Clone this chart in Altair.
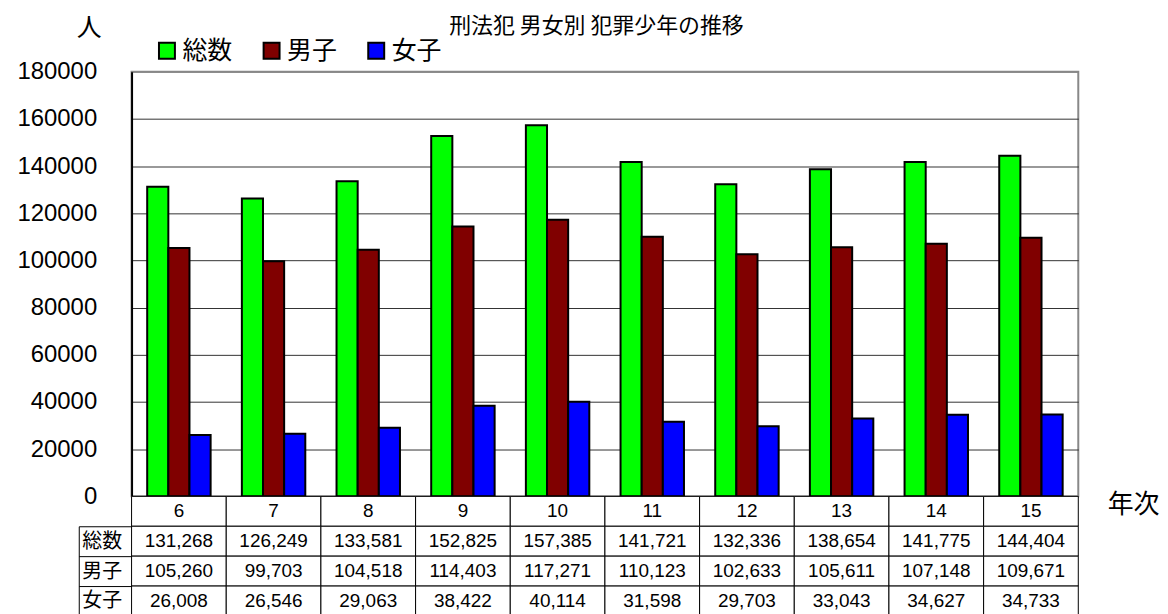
import altair as alt
import pandas as pd

# ---- data ----
years = ["6", "7", "8", "9", "10", "11", "12", "13", "14", "15"]
series = ["総数", "男子", "女子"]
total = [131268, 126249, 133581, 152825, 157385, 141721, 132336, 138654, 141775, 144404]
male = [105260, 99703, 104518, 114403, 117271, 110123, 102633, 105611, 107148, 109671]
female = [26008, 26546, 29063, 38422, 40114, 31598, 29703, 33043, 34627, 34733]
colors = ["#00FF00", "#800000", "#0000FF"]
y_ticks = [0, 20000, 40000, 60000, 80000, 100000, 120000, 140000, 160000, 180000]

title_text = "刑法犯 男女別 犯罪少年の推移"
y_title = "人"
x_title = "年次"

rows = []
for i, yr in enumerate(years):
    for s, vals in zip(series, [total, male, female]):
        rows.append({"year": yr, "series": s, "value": vals[i]})
df = pd.DataFrame(rows)
df_years = pd.DataFrame({"year": years})

JP = "Noto Sans CJK JP"
NUM = "Liberation Sans"

# ---- bar chart ----
bars = alt.Chart(
    df, width=950, height=426,
    view=alt.ViewBackground(stroke="#888888", strokeWidth=2)
).mark_bar(stroke="black", strokeWidth=2).encode(
    x=alt.X("year:N", sort=years,
            scale=alt.Scale(paddingInner=0.33, paddingOuter=0.165),
            axis=alt.Axis(orient="top", labels=False, ticks=False, domain=False, grid=False,
                          title=title_text, titleX=466, titleY=-46, titleAlign="center",
                          titleBaseline="middle", titleFont=JP, titleFontSize=22,
                          titleFontWeight="normal", titleColor="black")),
    xOffset=alt.XOffset("series:N", sort=series,
                        scale=alt.Scale(paddingInner=0, paddingOuter=0)),
    y=alt.Y("value:Q", scale=alt.Scale(domain=[0, 180000]),
            axis=alt.Axis(values=y_ticks, format="d", ticks=False, labelPadding=35,
                          labelFont=NUM, labelFontSize=24, labelColor="black",
                          grid=True,
                          gridColor={"condition": {"test": "datum.value == 180000", "value": "#888888"},
                                     "value": "#333333"},
                          gridWidth=1, domainColor="black", domainWidth=2,
                          title=y_title, titleAngle=0, titleX=-43, titleY=-44,
                          titleAlign="center", titleBaseline="middle", titleFont=JP,
                          titleFontSize=25, titleFontWeight="normal", titleColor="black")),
    color=alt.Color("series:N", sort=series,
                    scale=alt.Scale(domain=series, range=colors),
                    legend=alt.Legend(orient="none", legendX=23, legendY=-34,
                                      direction="horizontal", title=None,
                                      symbolType="square", symbolSize=256,
                                      symbolStrokeColor="black", symbolStrokeWidth=2,
                                      symbolOpacity=1, labelFont=JP, labelFontSize=25,
                                      labelOffset=3, columnPadding=26, padding=0,
                                      labelColor="black")),
)

# ---- header row (years) ----
hdr_base = alt.Chart(df_years, width=950, height=30).encode(
    x=alt.X("year:N", sort=years, scale=alt.Scale(paddingInner=0, paddingOuter=0),
            axis=alt.Axis(orient="bottom", labels=False, ticks=False, domain=False, grid=False,
                          title=x_title, titleX=1005, titleY=-22, titleAlign="center",
                          titleBaseline="middle", titleFont=JP, titleFontSize=26,
                          titleFontWeight="normal", titleColor="black")),
)
header = alt.layer(
    hdr_base.mark_rect(fill="white", stroke="black", strokeWidth=1),
    hdr_base.mark_text(font=NUM, fontSize=19, color="black").encode(text="year:N"),
)

# ---- data table ----
tbl_base = alt.Chart(df, width=950, height=90).encode(
    x=alt.X("year:N", sort=years, scale=alt.Scale(paddingInner=0, paddingOuter=0), axis=None),
    y=alt.Y("series:N", sort=series, scale=alt.Scale(paddingInner=0, paddingOuter=0),
            axis=alt.Axis(orient="left", title=None, domain=False, ticks=True,
                          tickBand="extent", tickSize=53, tickColor="black", tickWidth=1,
                          labelAlign="left", labelPadding=-3, labelFont=JP,
                          labelFontSize=20, labelColor="black", grid=False)),
)
cells = alt.layer(
    tbl_base.mark_rect(fill="white", stroke="black", strokeWidth=1),
    tbl_base.mark_text(font=NUM, fontSize=19, color="black").encode(
        text=alt.Text("value:Q", format=",")),
)
border = alt.Chart(df).mark_point(opacity=0, size=1).encode(
    y=alt.Y("series:N", sort=series, scale=alt.Scale(paddingInner=0, paddingOuter=0),
            axis=alt.Axis(orient="left", offset=53, labels=False, ticks=False, domain=True,
                          domainColor="black", domainWidth=1, title=None, grid=False)),
)
table = alt.layer(cells, border).resolve_scale(y="independent")

chart = alt.vconcat(
    bars, header, table, spacing=0, bounds="flush"
).resolve_scale(
    x="independent", color="independent"
).resolve_legend(
    color="independent"
).configure_view(
    strokeWidth=0
).properties(
    padding={"left": 7, "top": 5, "right": 0, "bottom": 0}
)

chart.save("out.html", embed_options={"renderer": "svg", "actions": False})
